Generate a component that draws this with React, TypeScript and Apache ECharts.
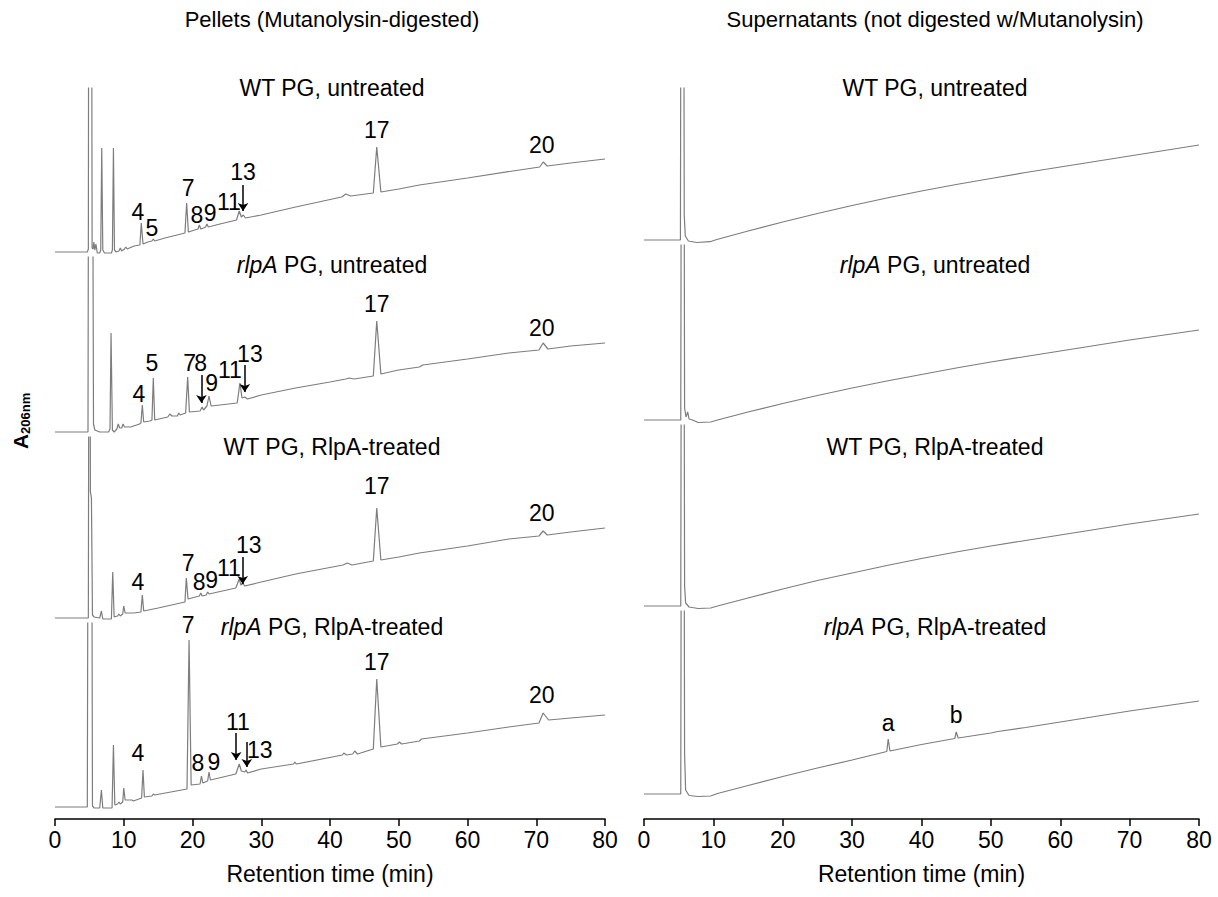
import React, { useEffect, useRef } from 'react';
import * as echarts from 'echarts';

const FONT = '"Liberation Sans", Arial, Helvetica, sans-serif';

// ---------------- DATA (retention time in min, absorbance in arbitrary units above each trace's baseline) -------------
const pelletWTUntreated: number[][] = [
  [0, 0], [4.7, 0], [4.85, 3], [4.95, 600], [5.25, 600], [5.4, 4], [5.55, 3], [5.65, 10], [5.8, 2], [5.95, 8], [6.15, -1],
  [6.5, -1], [6.65, 2], [6.8, 104], [6.95, 2], [7.2, -1], [8.2, -1], [8.35, 2], [8.5, 104], [8.65, 2], [8.9, 0], [9.3, 1],
  [9.5, 4], [9.7, 1], [10.1, 3], [10.3, 5], [10.5, 3], [11.5, 6], [12.35, 7], [12.55, 29], [12.8, 8], [13.5, 10], [14.1, 11],
  [14.3, 13], [14.5, 11], [16, 14], [18.9, 19], [19.15, 49], [19.4, 20], [20.8, 23], [21, 27], [21.2, 23], [21.6, 24],
  [21.9, 25], [22.1, 28], [22.3, 25], [24, 28], [26.4, 32], [26.8, 41], [27.1, 35], [27.4, 37], [27.7, 34], [30, 37],
  [35, 45], [41.7, 55], [42.3, 58], [43, 56], [46.3, 59], [46.8, 105], [47.4, 60], [50, 63], [53, 67], [55, 69], [60, 74],
  [66.6, 81], [70.5, 85], [71, 90], [71.6, 86], [75, 89], [80, 93],
];
const pelletRlpAUntreated: number[][] = [
  [0, 0], [4.8, 0], [4.95, 600], [5.35, 600], [5.6, 8], [5.8, 2], [6.5, 0], [7.8, 0], [8.0, 3], [8.15, 99], [8.35, 2],
  [8.6, 0], [9.0, 3], [9.2, 8], [9.4, 4], [9.7, 4], [9.9, 8], [10.1, 5], [11, 5], [12.3, 8], [12.5, 9], [12.7, 27],
  [12.9, 10], [13.8, 11], [14.1, 12], [14.3, 54], [14.5, 12], [16.4, 15], [16.7, 18], [17, 16], [17.8, 16], [18, 19],
  [18.2, 17], [19.0, 19], [19.3, 55], [19.55, 20], [21.1, 21], [21.4, 25], [21.6, 22], [22.1, 26], [22.4, 36], [22.7, 26],
  [24, 27], [26.5, 29], [26.9, 49], [27.2, 34], [27.6, 35], [28, 33], [30, 37], [35, 44], [40, 50], [42.3, 53], [42.8, 54],
  [43.5, 53], [46.3, 56], [46.8, 111], [47.4, 58], [50, 62], [53, 65], [53.5, 67], [60, 73], [66, 79], [70.4, 82],
  [71, 89], [71.7, 83], [75, 86], [80, 89],
];
const pelletWTTreated: number[][] = [
  [0, 0], [4.85, 0], [5.0, 600], [5.15, 126], [5.3, 120], [5.45, 3], [5.7, 1], [6.5, 0], [6.75, 7], [6.95, -1], [8.2, -1],
  [8.4, 46], [8.6, 1], [9.1, 2], [9.3, 4], [9.5, 2], [9.85, 4], [10.0, 12], [10.2, 5], [11.5, 5], [12.5, 6], [12.7, 23],
  [12.9, 7], [15, 10], [18.9, 16], [19.1, 40], [19.35, 19], [21, 22], [21.2, 25], [21.4, 22], [22.0, 23], [22.2, 26],
  [22.4, 24], [26.3, 30], [26.8, 39], [27.05, 33], [27.3, 35], [27.6, 32], [30, 36], [35, 44], [41.9, 53], [42.5, 55],
  [43.2, 53], [46.3, 57], [46.8, 110], [47.4, 58], [50, 61], [53, 65], [60, 72], [66, 79], [70.4, 82], [71, 87],
  [71.6, 83], [75, 86], [80, 90],
];
const pelletRlpATreated: number[][] = [
  [0, 0], [4.7, 0], [4.9, 600], [5.25, 600], [5.45, 1], [5.7, -1], [6.5, -1], [6.75, 17], [6.95, -1], [8.3, -1], [8.5, 62],
  [8.7, 2], [9.1, 3], [9.3, 5], [9.5, 3], [9.85, 5], [10.0, 19], [10.2, 7], [11.2, 7], [11.4, 6], [12.6, 9], [12.8, 37],
  [13.0, 10], [14.1, 11], [14.3, 13], [14.5, 12], [19.2, 18], [19.5, 167], [19.8, 22], [21.1, 23], [21.3, 31], [21.5, 24],
  [22.2, 26], [22.4, 35], [22.6, 27], [26.3, 33], [26.8, 43], [27.1, 36], [27.6, 35], [27.8, 37], [28, 34], [30, 38],
  [34.7, 43], [34.9, 45], [35.1, 43], [41.8, 52], [42, 54], [42.4, 52], [43.3, 53], [43.6, 56], [44, 53], [46.3, 58],
  [46.8, 128], [47.4, 60], [49.8, 63], [50.1, 65], [50.4, 63], [53, 66], [53.3, 68], [60, 74], [66, 80], [70.4, 84],
  [71, 94], [71.8, 87], [75, 89], [80, 92],
];

const supWTUntreated: number[][] = [
  [0, 0], [5.25, 0], [5.4, 600], [5.65, 600], [5.8, 25], [5.95, 4], [6.4, -1], [7.6, -2.5], [9.5, -1.7], [10.5, 0.5],
  [15, 9], [20, 18], [25, 26.5], [30, 34.5], [35, 42], [40, 49], [45, 55.5], [50, 61.5], [55, 67.5], [60, 73], [65, 78.5],
  [70, 84], [75, 89.5], [80, 95],
];
const supRlpAUntreated: number[][] = [
  [0, 0], [5.3, 0], [5.45, 600], [5.7, 600], [5.85, 12], [6.05, 3], [6.3, 8], [6.5, 1], [7, 0], [7.8, -2.5], [9.6, -2],
  [10.6, 0], [15, 8], [20, 16.5], [25, 24.5], [30, 32], [35, 39], [40, 45.5], [45, 52], [50, 58], [55, 63.5], [60, 69],
  [65, 74.5], [70, 80], [75, 85], [80, 90],
];
const supWTTreated: number[][] = [
  [0, 0], [5.3, 0], [5.45, 600], [5.7, 600], [5.85, 20], [6.0, 3], [6.5, -1], [7.8, -2.5], [9.6, -2], [10.6, 0], [15, 8],
  [20, 17], [25, 25.5], [30, 33], [35, 40.5], [40, 47.5], [45, 54], [50, 60], [55, 65.5], [60, 71], [65, 76.5], [70, 82],
  [75, 87], [80, 92],
];
const supRlpATreated: number[][] = [
  [0, 0], [5.3, 0], [5.45, 600], [5.7, 600], [5.85, 40], [6.0, 4], [6.5, -1.5], [7.8, -2.5], [9.6, -2], [10.6, 0.5],
  [15, 8.5], [20, 17.5], [25, 26], [30, 34], [35, 42.5], [35.2, 55], [35.45, 43], [40, 49.5], [44.8, 55.5], [45.0, 62],
  [45.3, 56], [50, 61], [51, 62.5], [55, 66.5], [60, 72], [65, 77.5], [70, 83], [75, 88], [80, 93],
];

const panelTitles = ['Pellets (Mutanolysin-digested)', 'Supernatants (not digested w/Mutanolysin)'];
const rowTitles = ['WT PG, untreated', '{i|rlpA} PG, untreated', 'WT PG, RlpA-treated', '{i|rlpA} PG, RlpA-treated'];
const xAxisName = 'Retention time (min)';
const yAxisLabelMain = 'A';
const yAxisLabelSub = '206nm';
const xMin = 0;
const xMax = 80;
const xInterval = 10;

// peak labels [text, time, absorbance]
const pelletLabels: [string, number, number][][] = [
  [['4', 12.07, 40], ['5', 14.1, 24], ['7', 19.35, 64], ['8', 20.65, 37], ['9', 22.55, 39], ['11', 25.3, 50], ['13', 27.35, 80], ['17', 46.8, 122], ['20', 70.8, 107]],
  [['4', 12.2, 38], ['5', 14.1, 69], ['7', 19.6, 69], ['8', 21.2, 69], ['9', 22.8, 49], ['11', 25.45, 62], ['13', 28.35, 78], ['17', 46.8, 128], ['20', 70.8, 104]],
  [['4', 12.07, 36], ['7', 19.35, 55], ['8', 20.95, 36], ['9', 22.8, 38], ['11', 25.3, 50], ['13', 28.2, 73], ['17', 46.8, 132], ['20', 70.8, 105]],
  [['7', 19.35, 182], ['4', 12.07, 54], ['8', 20.8, 44], ['9', 23.1, 45], ['11', 26.6, 85], ['13', 29.8, 57], ['17', 46.8, 145], ['20', 70.8, 112]],
];
// arrows [time, fromAbsorbance, toAbsorbance]
const pelletArrows: [number, number, number][][] = [
  [[27.35, 67, 41]],
  [[21.3, 57, 29], [27.6, 67, 40]],
  [[27.3, 61, 34]],
  [[26.35, 74, 47], [27.9, 65, 40]],
];
const supLabels: [string, number, number][][] = [[], [], [], [['a', 35.2, 71], ['b', 45.0, 79]]];
const supArrows: [number, number, number][][] = [[], [], [], []];

const pelletTraces = [pelletWTUntreated, pelletRlpAUntreated, pelletWTTreated, pelletRlpATreated];
const supTraces = [supWTUntreated, supRlpAUntreated, supWTTreated, supRlpATreated];

// ---------------- LAYOUT -------------
const LAYOUT = {
  plotTop: 88,
  axisY: 819,
  titleY: 19,
  rowTitleY: [88, 265, 447, 627],
  textSize: 23,
  panels: [
    { left: 55, width: 550, centerX: 332, baselines: [252, 432, 618, 807] },
    { left: 644, width: 555, centerX: 935, baselines: [240, 420, 606, 794] },
  ],
};

function buildOption() {
  const grid: any[] = [];
  const xAxis: any[] = [];
  const yAxis: any[] = [];
  const series: any[] = [];
  const graphic: any[] = [];
  const traceSets = [pelletTraces, supTraces];
  const labelSets = [pelletLabels, supLabels];
  const arrowSets = [pelletArrows, supArrows];
  const fs = LAYOUT.textSize;

  LAYOUT.panels.forEach((panel, p) => {
    panel.baselines.forEach((B, r) => {
      const idx = p * 4 + r;
      const top = r === 0 ? LAYOUT.plotTop : panel.baselines[r - 1] + 5;
      const bottom = r === 3 ? LAYOUT.axisY : B + 6;
      grid.push({ left: panel.left, width: panel.width, top, height: bottom - top });
      const showAxis = r === 3;
      xAxis.push({
        gridIndex: idx,
        type: 'value',
        min: xMin,
        max: xMax,
        interval: xInterval,
        show: showAxis,
        name: showAxis ? xAxisName : '',
        nameLocation: 'middle',
        nameGap: 43,
        nameTextStyle: { fontSize: fs, color: '#000', fontFamily: FONT },
        axisLine: { show: true, onZero: false, lineStyle: { color: '#000', width: 1.5 } },
        axisTick: { show: true, inside: false, length: 7, lineStyle: { color: '#000', width: 1.5 } },
        axisLabel: { show: true, fontSize: fs, color: '#000', fontFamily: FONT, margin: 9 },
        splitLine: { show: false },
      });
      yAxis.push({
        gridIndex: idx,
        type: 'value',
        show: false,
        min: -(bottom - B),
        max: B - top,
        splitLine: { show: false },
      });
      series.push({
        type: 'line',
        xAxisIndex: idx,
        yAxisIndex: idx,
        data: traceSets[p][r],
        showSymbol: false,
        symbol: 'none',
        clip: true,
        silent: true,
        lineStyle: { color: '#7d7d7d', width: 1.2 },
        z: 2,
      });
      const labels = labelSets[p][r];
      const arrows = arrowSets[p][r];
      if (labels.length || arrows.length) {
        series.push({
          type: 'scatter',
          xAxisIndex: idx,
          yAxisIndex: idx,
          data: labels.map((l) => ({ value: [l[1], l[2]], name: l[0] })),
          symbolSize: 0,
          clip: false,
          silent: true,
          itemStyle: { color: '#000000', opacity: 1 },
          emphasis: { disabled: true },
          label: {
            show: true,
            position: [0, 0],
            align: 'center',
            verticalAlign: 'middle',
            formatter: (prm: any) => prm.name,
            fontSize: fs,
            color: '#000000',
            opacity: 1,
            textBorderWidth: 0,
            fontFamily: FONT,
          },
          markLine: {
            silent: true,
            symbol: ['none', 'arrow'],
            symbolSize: 8,
            label: { show: false },
            emphasis: { disabled: true },
            lineStyle: { color: '#000', width: 1.5, type: 'solid', opacity: 1 },
            data: arrows.map((a) => [{ coord: [a[0], a[1]] }, { coord: [a[0], a[2]] }]),
          },
          z: 3,
        });
      }
      graphic.push({
        type: 'text',
        x: panel.centerX,
        y: LAYOUT.rowTitleY[r],
        style: {
          text: rowTitles[r],
          rich: { i: { fontStyle: 'italic', fontSize: fs, fontFamily: FONT, fill: '#000' } },
          fontSize: fs,
          fontFamily: FONT,
          fill: '#000',
          align: 'center',
          verticalAlign: 'middle',
          textAlign: 'center',
          textVerticalAlign: 'middle',
        },
      });
    });
    graphic.push({
      type: 'text',
      x: panel.centerX,
      y: LAYOUT.titleY,
      style: {
        text: panelTitles[p],
        fontSize: 22,
        fontFamily: FONT,
        fill: '#000',
        align: 'center',
        verticalAlign: 'middle',
        textAlign: 'center',
        textVerticalAlign: 'middle',
      },
    });
  });

  graphic.push({
    type: 'group',
    x: 20,
    y: 449,
    rotation: Math.PI / 2,
    children: [
      {
        type: 'text',
        x: 0,
        y: 0,
        style: { text: yAxisLabelMain, fontSize: 21, fontWeight: 'bold', fontFamily: FONT, fill: '#000', align: 'left', verticalAlign: 'middle', textAlign: 'left', textVerticalAlign: 'middle' },
      },
      {
        type: 'text',
        x: 15,
        y: 5,
        style: { text: yAxisLabelSub, fontSize: 13, fontWeight: 'bold', fontFamily: FONT, fill: '#000', align: 'left', verticalAlign: 'middle', textAlign: 'left', textVerticalAlign: 'middle' },
      },
    ],
  });

  return {
    animation: false,
    backgroundColor: '#ffffff',
    grid,
    xAxis,
    yAxis,
    series,
    graphic,
  };
}

export default function App() {
  const ref = useRef<HTMLDivElement>(null);
  useEffect(() => {
    if (!ref.current) return;
    const chart = echarts.init(ref.current, undefined, { renderer: 'svg' });
    chart.setOption(buildOption() as any);
    return () => chart.dispose();
  }, []);
  return (
    <div
      ref={ref}
      style={{ position: 'fixed', left: 0, top: 0, width: 1218, height: 897, background: '#fff' }}
    />
  );
}
